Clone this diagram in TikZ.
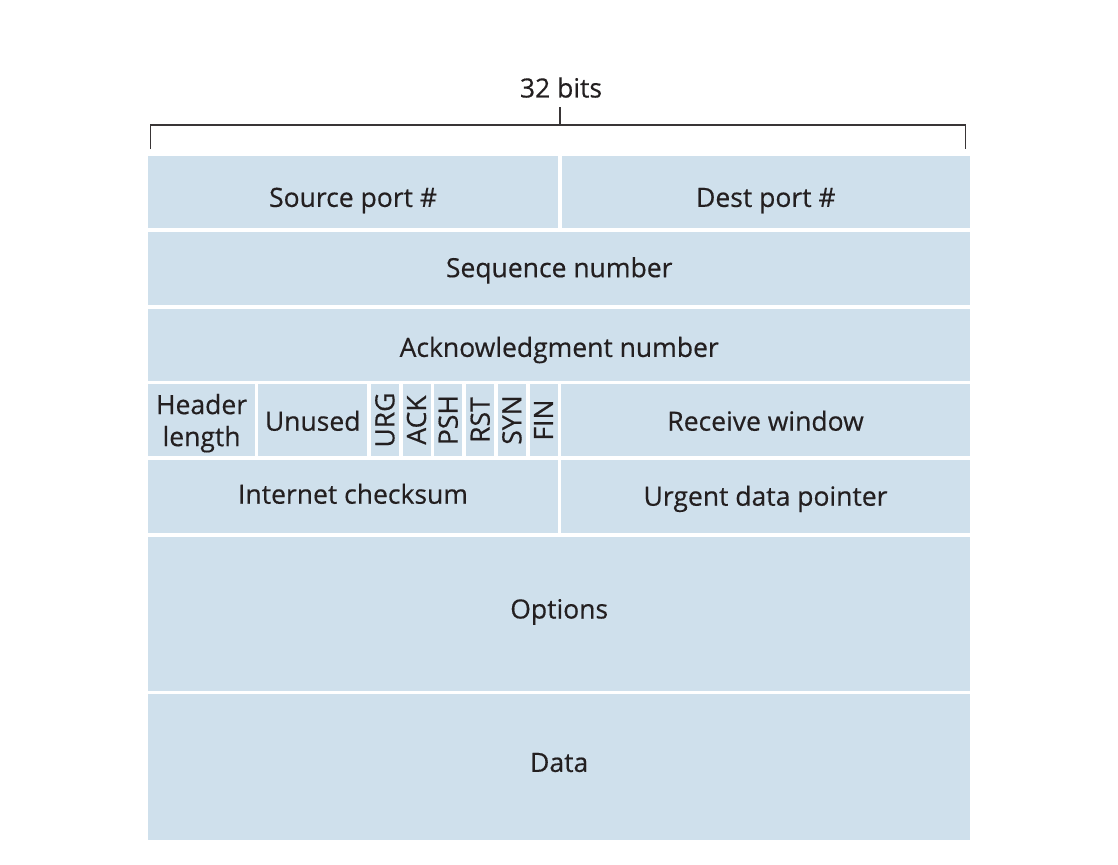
\documentclass[tikz,border=0pt]{standalone}
\usepackage{fontspec}
\setmainfont{Open Sans}[FakeBold=0.4]

\definecolor{fieldblue}{RGB}{207,224,236}
\definecolor{inkdark}{RGB}{35,31,32}

\tikzset{
  field/.style={fill=fieldblue, anchor=north west, inner sep=0pt, align=center,
    text=inkdark, font=\fontsize{26.5}{32}\selectfont},
  flag/.style={field, minimum width=28pt, minimum height=72.7pt},
  lowered/.style={text height=#1pt, text depth=0pt},
  bracket/.style={draw=inkdark!90, line width=1.3pt},
}

\begin{document}
\begin{tikzpicture}[x=1pt, y=-1pt]
  \useasboundingbox (0,0) rectangle (1118,864);

  % Width bracket
  \node[anchor=base, inner sep=0pt, text=inkdark, font=\fontsize{26.5}{32}\selectfont] (bits) at (561,97.5) {32 bits};
  \coordinate (lo) at (150.5,149);
  \coordinate (ro) at (965.5,149);
  \coordinate (mid) at (560,125);
  \coordinate (tick) at (560,107);
  \draw[bracket] (lo) |- (mid) -| (ro);
  \draw[bracket] (mid) -- (tick);

  % Row 1
  \node[field, lowered=29.4, minimum width=409.7pt, minimum height=72pt] (src) at (148,156) {Source port \#};
  \node[field, lowered=29.4, minimum width=408.7pt, minimum height=72pt] (dst) at (561.3,156) {Dest port \#};

  % Rows 2 and 3
  \node[field, lowered=17.9, minimum width=822pt, minimum height=73.5pt] (seq) at (148,231.3) {Sequence number};
  \node[field, lowered=24.8, minimum width=822pt, minimum height=72pt] (ack) at (148,308.3) {Acknowledgment number};

  % Row 4
  \node[field, text depth=0pt, minimum width=106.7pt, minimum height=72.7pt] (hlen) at (148,383.5) {Header\\length};
  \node[field, lowered=21.3, minimum width=109pt, minimum height=72.7pt] (unused) at (258,383.5) {Unused};
  \node[flag] (urg) at (370.7,383.5) {\rotatebox{90}{URG}};
  \node[flag] (fack) at (402.3,383.5) {\rotatebox{90}{ACK}};
  \node[flag] (psh) at (434,383.5) {\rotatebox{90}{PSH}};
  \node[flag] (rst) at (466,383.5) {\rotatebox{90}{RST}};
  \node[flag] (syn) at (497.7,383.5) {\rotatebox{90}{SYN}};
  \node[flag] (fin) at (529.3,383.5) {\rotatebox{90}{FIN}};
  \node[field, lowered=21.3, minimum width=409.3pt, minimum height=72.7pt] (rwnd) at (560.7,383.5) {Receive window};

  % Row 5
  \node[field, lowered=14.3, minimum width=409.7pt, minimum height=72.7pt] (csum) at (148,460) {Internet checksum};
  \node[field, lowered=18.3, minimum width=409.3pt, minimum height=72.7pt] (urgp) at (560.7,460) {Urgent data pointer};

  % Options and data
  \node[field, lowered=9.2, minimum width=822pt, minimum height=154pt] (opts) at (148,536.7) {Options};
  \node[field, lowered=9.4, minimum width=822pt, minimum height=146pt] (data) at (148,694) {Data};
\end{tikzpicture}
\end{document}
